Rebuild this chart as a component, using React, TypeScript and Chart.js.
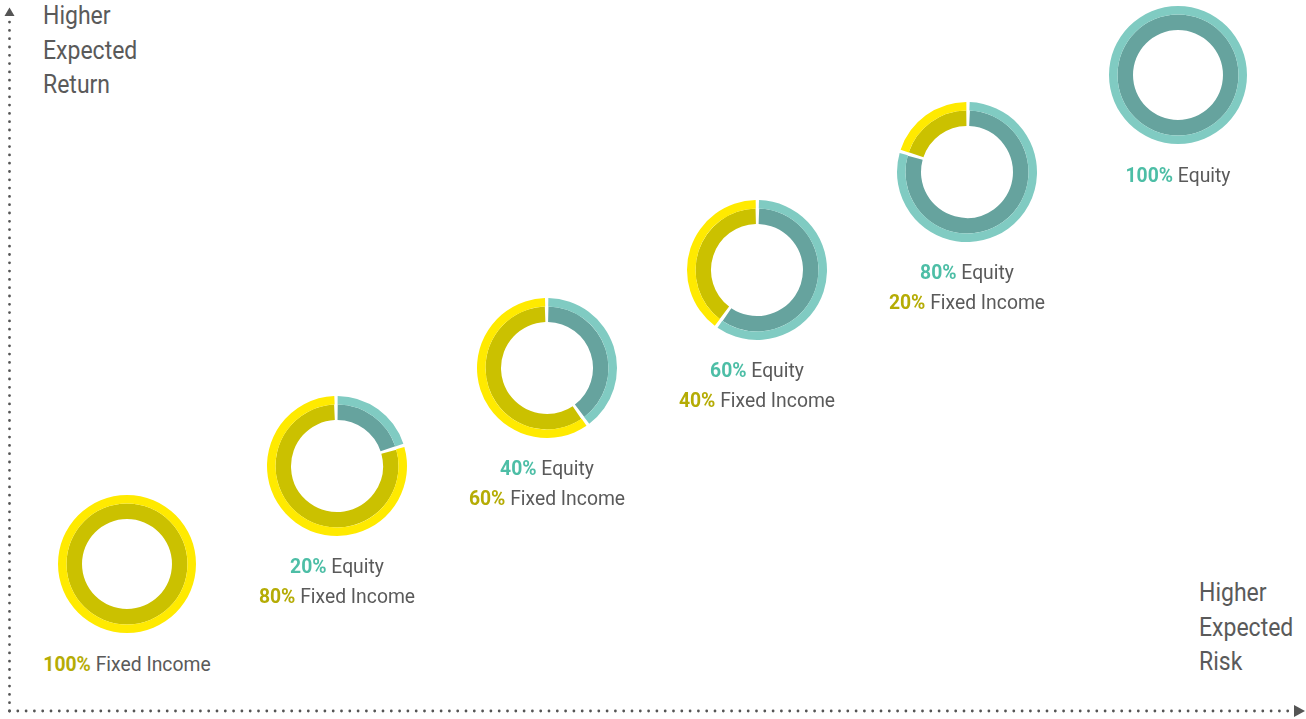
import React, { useEffect, useRef } from 'react';
import { Chart, registerables } from 'chart.js';

Chart.register(...registerables);

// ---- Data ----
const seriesNames = ['Equity', 'Fixed Income'];
const equityShare = [0, 20, 40, 60, 80, 100];
const fixedIncomeShare = [100, 80, 60, 40, 20, 0];
const yAxisTitle = ['Higher', 'Expected', 'Return'];
const xAxisTitle = ['Higher', 'Expected', 'Risk'];

// ---- Styles ----
const OUTER_TEAL = '#80cbc2';
const INNER_TEAL = '#66a39e';
const OUTER_YELLOW = '#ffea00';
const INNER_YELLOW = '#cbc100';
const PCT_TEAL = '#4dbea6';
const PCT_OLIVE = '#b5ac05';
const TEXT_GRAY = '#5a5a5a';
const FONT = "Roboto, 'Open Sans', sans-serif";
const SQUEEZE = 0.92;

const CANVAS = 150;

function Donut({ eq, fi, cx, cy }: { eq: number; fi: number; cx: number; cy: number }) {
  const ref = useRef<HTMLCanvasElement | null>(null);
  useEffect(() => {
    if (!ref.current) return;
    const hasZero = eq === 0 || fi === 0;
    const sp = hasZero ? 0 : 2;
    const chart = new Chart(ref.current, {
      type: 'doughnut',
      data: {
        labels: seriesNames,
        datasets: [
          {
            data: [eq, fi],
            backgroundColor: [OUTER_TEAL, OUTER_YELLOW],
            borderWidth: 0,
            spacing: sp,
            weight: 8.5,
          } as any,
          {
            data: [eq, fi],
            backgroundColor: [INNER_TEAL, INNER_YELLOW],
            borderWidth: 0,
            spacing: sp,
            weight: 15.5,
          } as any,
        ],
      },
      options: {
        responsive: false,
        animation: false,
        events: [],
        radius: 69,
        cutout: '65.2%',
        layout: { padding: 0 },
        plugins: { legend: { display: false }, tooltip: { enabled: false } },
      } as any,
    });
    return () => chart.destroy();
  }, [eq, fi]);
  return (
    <canvas
      ref={ref}
      width={CANVAS}
      height={CANVAS}
      style={{ position: 'absolute', left: cx - CANVAS / 2, top: cy - CANVAS / 2, width: CANVAS, height: CANVAS }}
    />
  );
}

function Label({ eq, fi, cx, cy }: { eq: number; fi: number; cx: number; cy: number }) {
  const lines: { pct: number; name: string; color: string }[] = [];
  if (eq > 0) lines.push({ pct: eq, name: seriesNames[0], color: PCT_TEAL });
  if (fi > 0) lines.push({ pct: fi, name: seriesNames[1], color: PCT_OLIVE });
  return (
    <div
      style={{
        position: 'absolute',
        left: cx - 150,
        width: 300,
        top: cy + 100 - 15,
        textAlign: 'center',
        fontFamily: FONT,
        fontSize: 21,
        lineHeight: '30px',
        color: TEXT_GRAY,
        whiteSpace: 'nowrap',
        transform: `scaleX(${SQUEEZE})`,
        transformOrigin: 'center',
      }}
    >
      {lines.map((l, i) => (
        <div key={i}>
          <span style={{ color: l.color, fontWeight: 'bold' }}>{l.pct}%</span> {l.name}
        </div>
      ))}
    </div>
  );
}

function AxisTitle({ lines, left, top }: { lines: string[]; left: number; top: number }) {
  return (
    <div
      style={{
        position: 'absolute',
        left,
        top,
        fontFamily: FONT,
        fontSize: 25,
        lineHeight: '34.5px',
        color: TEXT_GRAY,
        whiteSpace: 'nowrap',
        transform: `scaleX(${SQUEEZE})`,
        transformOrigin: 'left top',
      }}
    >
      {lines.map((t, i) => (
        <div key={i}>{t}</div>
      ))}
    </div>
  );
}

export default function App() {
  const centers = equityShare.map((_, i) => ({ cx: 126.5 + i * 210.2, cy: 563.5 - i * 97.8 }));
  return (
    <div style={{ position: 'absolute', left: 0, top: 0, width: 1306, height: 719, background: '#fff', overflow: 'hidden' }}>
      <svg width={1306} height={719} style={{ position: 'absolute', left: 0, top: 0 }}>
        <line x1={9.5} y1={711} x2={9.5} y2={22} stroke="#555" strokeWidth={2.8} strokeLinecap="round" strokeDasharray="0 8.3" />
        <line x1={9.5} y1={711} x2={1290} y2={711} stroke="#555" strokeWidth={2.8} strokeLinecap="round" strokeDasharray="0 8.3" />
        <polygon points="9.5,7.5 4.5,16 14.5,16" fill="#555" />
        <polygon points="1305,711 1294,705 1294,717" fill="#555" />
      </svg>
      <AxisTitle lines={yAxisTitle} left={43} top={-1} />
      <AxisTitle lines={xAxisTitle} left={1199} top={576} />
      {centers.map((c, i) => (
        <Donut key={'d' + i} eq={equityShare[i]} fi={fixedIncomeShare[i]} cx={c.cx} cy={c.cy} />
      ))}
      {centers.map((c, i) => (
        <Label key={'l' + i} eq={equityShare[i]} fi={fixedIncomeShare[i]} cx={c.cx} cy={c.cy} />
      ))}
    </div>
  );
}
